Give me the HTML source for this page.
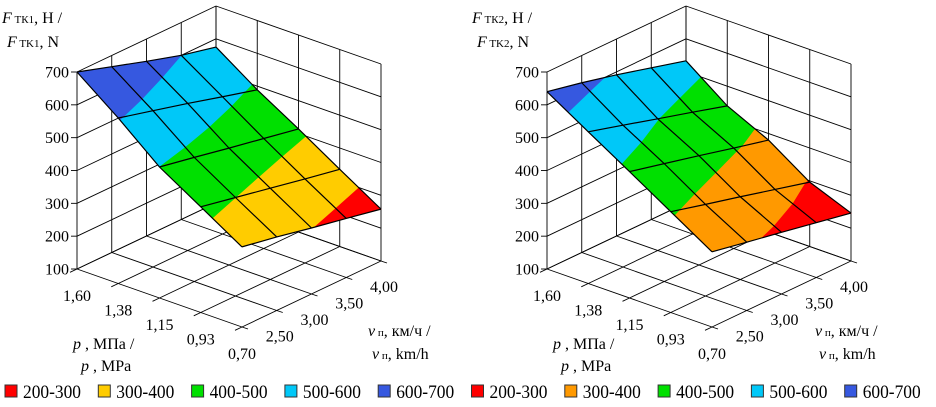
<!DOCTYPE html>
<html><head><meta charset="utf-8"><style>
body{margin:0;background:#fff;}
svg{display:block;}
svg text{font-family:"Liberation Serif","DejaVu Serif","Times New Roman",serif;}
</style></head><body>
<svg id="svg" width="936" height="407" viewBox="0 0 936 407" xmlns="http://www.w3.org/2000/svg"></svg>
<script>
// ---- data ----
const pLabels = ["1,60","1,38","1,15","0,93","0,70"];
const vLabels = ["","2,50","3,00","3,50","4,00"];
const zTicks = [100,200,300,400,500,600,700];
const bandLo = [200,300,400,500,600];
const bandNames = ["200-300","300-400","400-500","500-600","600-700"];
// rows: p index (1.60 -> 0.70), cols: v index (2.0 -> 4.0)
const force1 = [
  [700,666,632,600,575],
  [604,576,548,518,489],
  [499,478,456,435,414],
  [422,400,378,356,335],
  [344,324,301,280,258]
];
const force2 = [
  [640,617,591,562,533],
  [562,532,501,471,440],
  [485,459,433,406,380],
  [407,379,352,324,296],
  [329,308,288,267,246]
];
const colors1 = ["#ff0000","#ffcc00","#00e000","#00c8f8","#3658e0"];
const colors2 = ["#ff0000","#ff9900","#00e000","#00c8f8","#3658e0"];

const NS="http://www.w3.org/2000/svg";
const svg=document.getElementById('svg');
function mk(tag,attrs,parent){const e=document.createElementNS(NS,tag);for(const k in attrs)e.setAttribute(k,attrs[k]);if(tag==='text')e.style.fontFamily='"Liberation Serif","DejaVu Serif",serif';(parent||svg).appendChild(e);return e;}

function drawChart(ox, data, colors, sub, idx){
  const g=mk('g',{});
  
  
  const oy=269, kz=197/600;
  const P=(i,j,z)=>[ox+i*41.25+j*34.75, oy+i*14.5-j*16.5-(z-100)*kz];
  const line=(a,b,name,w)=>{const l=mk('line',{x1:a[0],y1:a[1],x2:b[0],y2:b[1],stroke:'#000','stroke-width':w||0.9},g);return l;};
  for(let i=0;i<5;i++) line(P(i,0,100),P(i,4,100),'floor-grid-p');
  for(let j=0;j<5;j++) line(P(0,j,100),P(4,j,100),'floor-grid-v');
  for(const z of zTicks){ line(P(0,0,z),P(0,4,z),'wall-grid-z'); line(P(0,4,z),P(4,4,z),'wall-grid-z'); }
  for(let j=0;j<5;j++) line(P(0,j,100),P(0,j,700),'wall-grid-v');
  for(let i=0;i<5;i++) line(P(i,4,100),P(i,4,700),'wall-grid-p');
  for(const z of zTicks){
    const a=P(0,0,z); line([a[0]-6,a[1]],a,'z-tick');
    const t=mk('text',{x:a[0]-8,y:a[1]+5.5,'text-anchor':'end','font-size':16},g);
    t.textContent=z;  
  }
  for(let i=0;i<5;i++){
    const a=P(i,0,100); line(a,[a[0]-7,a[1]+3.3],'p-tick');
    const t=mk('text',{x:a[0],y:a[1]+32,'text-anchor':'middle','font-size':16},g);
    t.textContent=pLabels[i];  
  }
  for(let j=0;j<5;j++){
    const a=P(4,j,100); line(a,[a[0]+6,a[1]+2],'v-tick');
    const t=mk('text',{x:a[0]+3,y:a[1]+31,'text-anchor':'middle','font-size':16},g);
    t.textContent=vLabels[j];  
  }
  function clip(poly,lim,above){
    const out=[];
    for(let k=0;k<poly.length;k++){
      const a=poly[k], b=poly[(k+1)%poly.length];
      const ina=above?a[2]>=lim:a[2]<=lim, inb=above?b[2]>=lim:b[2]<=lim;
      if(ina) out.push(a);
      if(ina!==inb){const t=(lim-a[2])/(b[2]-a[2]);out.push([a[0]+t*(b[0]-a[0]),a[1]+t*(b[1]-a[1]),lim]);}
    }
    return out;
  }
  const cells=[];
  for(let i=0;i<4;i++)for(let j=0;j<4;j++)cells.push([i,j]);
  cells.sort((a,b)=>(a[0]-a[1])-(b[0]-b[1]));
  for(const [i,j] of cells){
    const quad=[[i,j,data[i][j]],[i+1,j,data[i+1][j]],[i+1,j+1,data[i+1][j+1]],[i,j+1,data[i][j+1]]];
    for(let b=0;b<bandLo.length;b++){
      let lo=b===0?-1e9:bandLo[b], hi=b===bandLo.length-1?1e9:bandLo[b]+100;
      let pg=clip(clip(quad,lo,true),hi,false);
      if(pg.length<3) continue;
      const pts=pg.map(q=>P(q[0],q[1],q[2]).join(',')).join(' ');
      const pl=mk('polygon',{points:pts,fill:colors[b],stroke:colors[b],'stroke-width':0.6},g);
      
      
    }
  }
  for(let i=0;i<5;i++){const pts=[];for(let j=0;j<5;j++)pts.push(P(i,j,data[i][j]).join(','));
    const pl=mk('polyline',{points:pts.join(' '),fill:'none',stroke:'#000','stroke-width':1.2},g);
    }
  for(let j=0;j<5;j++){const pts=[];for(let i=0;i<5;i++)pts.push(P(i,j,data[i][j]).join(','));
    const pl=mk('polyline',{points:pts.join(' '),fill:'none',stroke:'#000','stroke-width':1.2},g);
    }
  const tt=(x,y,html,name)=>{const t=mk('text',{x:x,y:y,'font-size':16},g);t.innerHTML=html;};
  tt(ox-75,23,'<tspan font-style="italic">F</tspan><tspan font-size="11"> ТК'+sub+'</tspan>, Н /','z-axis-title');
  tt(ox-70,47,'<tspan font-style="italic">F</tspan><tspan font-size="11"> TK'+sub+'</tspan>, N','z-axis-title-en');
  const px=idx===1?ox-4:ox+6;
  tt(px,349,'<tspan font-style="italic">p</tspan> , МПа /','p-axis-title');
  tt(px+8,371,'<tspan font-style="italic">p</tspan> , MPa','p-axis-title-en');
  const vx=idx===1?ox+291:ox+268;
  tt(vx,336,'<tspan font-style="italic">v</tspan><tspan font-size="11"> п</tspan>, км/ч /','v-axis-title');
  tt(vx+4,359,'<tspan font-style="italic">v</tspan><tspan font-size="11"> п</tspan>, km/h','v-axis-title-en');
}
drawChart(77, force1, colors1, '1', 1);
drawChart(547, force2, colors2, '2', 2);

const legendColors=[...colors1,...colors2];
for(let k=0;k<10;k++){
  const x=4+k*93.3;
  const r=mk('rect',{x:x+1,y:385,width:12,height:12,fill:legendColors[k],stroke:'#333','stroke-width':1});
  
  
  const t=mk('text',{x:x+19,y:398,'font-size':19,textLength:58,lengthAdjust:'spacingAndGlyphs'});
  t.textContent=bandNames[k%5];
  
  
}
</script>
</body></html>
